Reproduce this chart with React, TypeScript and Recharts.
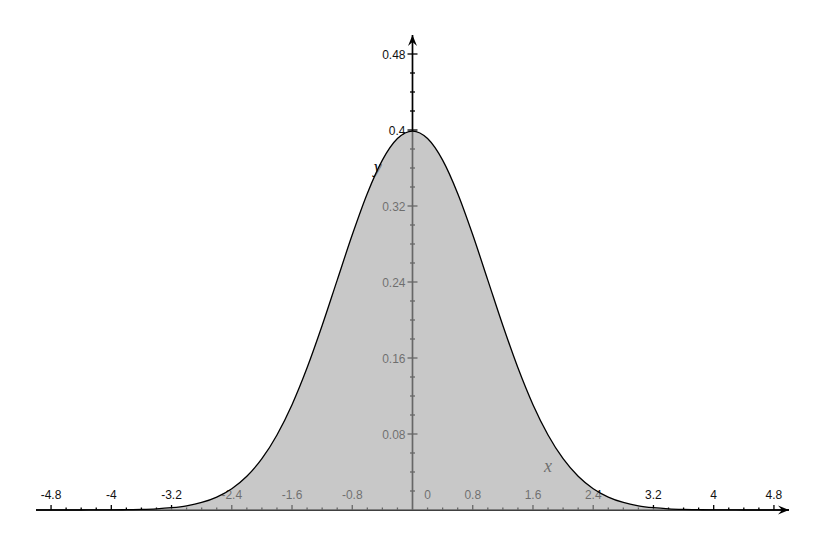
import { ComposedChart, Area, XAxis, YAxis, ReferenceLine, ReferenceDot } from 'recharts';

// sample points along x
const xValues = [
  -5, -4.8, -4.6, -4.4, -4.2, -4, -3.8, -3.6, -3.4, -3.2, -3, -2.8, -2.6, -2.4, -2.2, -2, -1.8,
  -1.6, -1.4, -1.2, -1, -0.8, -0.6, -0.4, -0.2, 0, 0.2, 0.4, 0.6, 0.8, 1, 1.2, 1.4, 1.6, 1.8,
  2, 2.2, 2.4, 2.6, 2.8, 3, 3.2, 3.4, 3.6, 3.8, 4, 4.2, 4.4, 4.6, 4.8, 5,
];
const densityValues = [
  0, 0, 0, 0, 0.0001, 0.0001, 0.0003, 0.0006, 0.0012, 0.0024, 0.0044, 0.0079, 0.0136, 0.0224,
  0.0355, 0.054, 0.079, 0.1109, 0.1497, 0.1942, 0.242, 0.2897, 0.3332, 0.3683, 0.391, 0.3989,
  0.391, 0.3683, 0.3332, 0.2897, 0.242, 0.1942, 0.1497, 0.1109, 0.079, 0.054, 0.0355, 0.0224,
  0.0136, 0.0079, 0.0044, 0.0024, 0.0012, 0.0006, 0.0003, 0.0001, 0.0001, 0, 0, 0, 0,
];

const xTickLabels = [-4.8, -4, -3.2, -2.4, -1.6, -0.8, 0.8, 1.6, 2.4, 3.2, 4, 4.8];
const yTickLabels = [0.08, 0.16, 0.24, 0.32, 0.4, 0.48];
const xMinorStep = 0.2;
const yMinorStep = 0.02;

const data = xValues.map((x, i) => ({ x, y: densityValues[i] }));

// minor ticks between the labelled ones
const xMinor: number[] = [];
for (let i = -23; i <= 23; i++) {
  if (i % 4 !== 0) xMinor.push(+(i * xMinorStep).toFixed(2));
}
const yMinor: number[] = [];
for (let i = 1; i <= 24; i++) {
  if (i % 4 !== 0) yMinor.push(+(i * yMinorStep).toFixed(2));
}

const FONT = '"Liberation Sans", Arial, sans-serif';
const SERIF = '"Liberation Serif", "DejaVu Serif", serif';
const INK = '#111';

export default function App() {
  return (
    <div style={{ position: 'absolute', left: 0, top: 0, background: '#fff' }}>
      <ComposedChart width={826} height={547} data={data} margin={{ top: 35, right: 37, bottom: 37, left: 36 }}>
        <XAxis type="number" dataKey="x" domain={[-5, 5]} hide />
        <YAxis type="number" domain={[0, 0.5]} hide />

        <ReferenceLine y={0} stroke="#000" strokeWidth={1.4} ifOverflow="visible" />
        <ReferenceLine x={0} stroke="#000" strokeWidth={1.7} ifOverflow="visible" />

        {xMinor.map((v) => (
          <ReferenceDot key={`xm${v}`} x={v} y={0} r={0} ifOverflow="visible"
            shape={(p: any) => <line x1={p.cx} x2={p.cx} y1={p.cy - 2.5} y2={p.cy} stroke="#000" strokeWidth={1.3} />} />
        ))}
        {xTickLabels.map((v) => (
          <ReferenceDot key={`xt${v}`} x={v} y={0} r={0} ifOverflow="visible"
            shape={(p: any) => (
              <g>
                <line x1={p.cx} x2={p.cx} y1={p.cy - 5} y2={p.cy} stroke="#000" strokeWidth={1.3} />
                <text x={p.cx} y={p.cy - 11} textAnchor="middle" fontSize={12} fontFamily={FONT} fill={INK}>{String(v)}</text>
              </g>
            )} />
        ))}
        <ReferenceDot x={0} y={0} r={0} ifOverflow="visible"
          shape={(p: any) => (
            <text x={p.cx + 15} y={p.cy - 11} textAnchor="middle" fontSize={12} fontFamily={FONT} fill={INK}>0</text>
          )} />

        {yMinor.map((v) => (
          <ReferenceDot key={`ym${v}`} x={0} y={v} r={0} ifOverflow="visible"
            shape={(p: any) => <line x1={p.cx - 2.5} x2={p.cx + 2.5} y1={p.cy} y2={p.cy} stroke="#000" strokeWidth={1.3} />} />
        ))}
        {yTickLabels.map((v) => (
          <ReferenceDot key={`yt${v}`} x={0} y={v} r={0} ifOverflow="visible"
            shape={(p: any) => (
              <g>
                <line x1={p.cx - 5} x2={p.cx + 5} y1={p.cy} y2={p.cy} stroke="#000" strokeWidth={1.3} />
                <text x={p.cx - 7} y={p.cy + 4.5} textAnchor="end" fontSize={12} fontFamily={FONT} fill={INK}>{String(v)}</text>
              </g>
            )} />
        ))}

        {/* arrowheads */}
        <ReferenceDot x={5} y={0} r={0} ifOverflow="visible"
          shape={(p: any) => <path d={`M${p.cx},${p.cy} L${p.cx - 11},${p.cy - 4.5} L${p.cx - 7},${p.cy} L${p.cx - 11},${p.cy + 4.5} Z`} fill="#000" />} />
        <ReferenceDot x={0} y={0.5} r={0} ifOverflow="visible"
          shape={(p: any) => <path d={`M${p.cx},${p.cy} L${p.cx - 4.5},${p.cy + 11} L${p.cx},${p.cy + 7} L${p.cx + 4.5},${p.cy + 11} Z`} fill="#000" />} />

        {/* axis names */}
        <ReferenceDot x={1.8} y={0.045} r={0} ifOverflow="visible"
          shape={(p: any) => <text x={p.cx} y={p.cy + 5} textAnchor="middle" fontSize={18} fontStyle="italic" fontFamily={SERIF} fill={INK}>x</text>} />
        <ReferenceDot x={-0.46} y={0.36} r={0} ifOverflow="visible"
          shape={(p: any) => <text x={p.cx} y={p.cy + 5} textAnchor="middle" fontSize={18} fontStyle="italic" fontFamily={SERIF} fill={INK}>y</text>} />

        <Area type="monotone" dataKey="y" stroke="#000" strokeWidth={1.3} fill="#a6a6a6" fillOpacity={0.62}
          dot={false} activeDot={false} isAnimationActive={false} zIndex={1000} />
      </ComposedChart>
    </div>
  );
}
